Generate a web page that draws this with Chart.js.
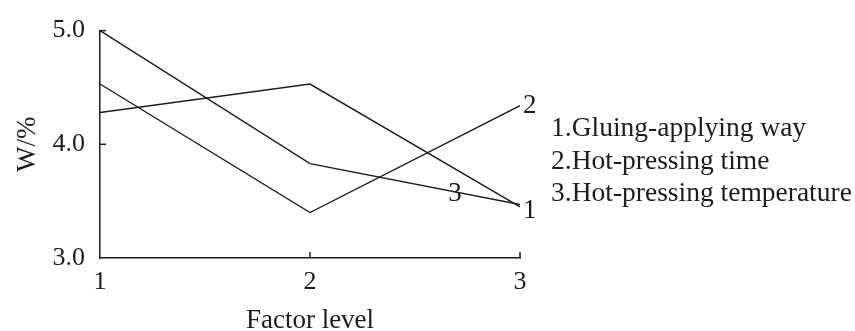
<!DOCTYPE html>
<html>
<head>
<meta charset="utf-8">
<script src="https://cdn.jsdelivr.net/npm/chart.js@4.4.1/dist/chart.umd.min.js"></script>
<style>
  html, body { margin: 0; padding: 0; background: #fff; }
  #box { width: 855px; height: 331px; }
</style>
</head>
<body>
<div id="box"><canvas id="myChart" width="855" height="331"></canvas></div>
<script>
// factor levels on the x axis
const levels = [1, 2, 3];
// W/% for each factor
const gluingWay = [4.28, 4.53, 3.45];
const pressTime = [4.53, 3.40, 4.34];
const pressTemp = [5.00, 3.83, 3.47];
const seriesNames = ['Gluing-applying way', 'Hot-pressing time', 'Hot-pressing temperature'];
const yTicks = [3.0, 4.0, 5.0];
// where the little number tags sit along each line (x in factor level)
const tagAt = [3, 3, 2.69];

const ink = '#1c1c1c';
const serif = "'Liberation Serif', 'Times New Roman', serif";

function pts(vals) {
  return levels.map((l, i) => ({ x: l, y: vals[i] }));
}

// inward ticks + line numbers + text legend
const extras = {
  id: 'extras',
  afterDraw(chart) {
    const ctx = chart.ctx;
    const xs = chart.scales.x, ys = chart.scales.y;
    const area = chart.chartArea;
    ctx.save();
    ctx.strokeStyle = ink;
    ctx.lineWidth = 1.5;
    levels.slice(1).forEach(l => {
      const px = xs.getPixelForValue(l);
      ctx.beginPath(); ctx.moveTo(px, area.bottom); ctx.lineTo(px, area.bottom - 6); ctx.stroke();
    });
    yTicks.slice(1).forEach(v => {
      const py = ys.getPixelForValue(v);
      ctx.beginPath(); ctx.moveTo(area.left, py); ctx.lineTo(area.left + 6, py); ctx.stroke();
    });

    ctx.fillStyle = ink;
    ctx.font = '27px ' + serif;
    ctx.textBaseline = 'middle';
    chart.data.datasets.forEach((ds, i) => {
      const xv = tagAt[i];
      // value on the line at xv
      const d = ds.data;
      let yv = d[d.length - 1].y;
      for (let k = 0; k < d.length - 1; k++) {
        if (xv >= d[k].x && xv <= d[k + 1].x) {
          const t = (xv - d[k].x) / (d[k + 1].x - d[k].x);
          yv = d[k].y + t * (d[k + 1].y - d[k].y);
          break;
        }
      }
      const px = xs.getPixelForValue(xv);
      const py = ys.getPixelForValue(yv);
      if (xv >= 3) {
        ctx.textAlign = 'left';
        ctx.fillText(String(i + 1), px + 3, py + (i === 0 ? 4 : 0));
      } else {
        ctx.textAlign = 'center';
        ctx.fillText(String(i + 1), px, py + 2);
      }
    });

    ctx.textAlign = 'left';
    ctx.textBaseline = 'alphabetic';
    ctx.font = '27.5px ' + serif;
    seriesNames.forEach((name, i) => {
      ctx.fillText((i + 1) + '.' + name, 551, 136 + i * 32.5);
    });
    ctx.restore();
  }
};

const config = {
  type: 'line',
  data: {
    datasets: [
      { label: seriesNames[0], data: pts(gluingWay) },
      { label: seriesNames[1], data: pts(pressTime) },
      { label: seriesNames[2], data: pts(pressTemp) }
    ].map(ds => Object.assign(ds, {
      borderColor: ink, borderWidth: 1.4, pointRadius: 0, tension: 0, fill: false
    }))
  },
  options: {
    responsive: false,
    animation: false,
    layout: { padding: { left: 0, top: 25, right: 335, bottom: 0 } },
    plugins: { legend: { display: false }, tooltip: { enabled: false } },
    scales: {
      x: {
        type: 'linear', min: 1, max: 3,
        afterFit: s => { s.height = 73; },
        grid: { display: false, drawTicks: false },
        border: { display: true, color: ink, width: 1.5 },
        ticks: { stepSize: 1, padding: 9, color: ink, font: { family: serif, size: 26 } },
        title: { display: true, text: 'Factor level', color: ink, padding: { top: 0, bottom: -3 },
                 font: { family: serif, size: 27, lineHeight: 1 } }
      },
      y: {
        min: 3, max: 5,
        afterFit: s => { s.width = 100; },
        grid: { display: false, drawTicks: false },
        border: { display: true, color: ink, width: 1.5 },
        ticks: { stepSize: 1, padding: 15, color: ink, font: { family: serif, size: 26 },
                 callback: v => v.toFixed(1) },
        title: { display: true, text: 'W/%', color: ink, padding: { top: 12, bottom: 0 },
                 font: { family: serif, size: 27, lineHeight: 1.2 } }
      }
    }
  },
  plugins: [extras]
};

const chartInstance = new Chart(document.getElementById('myChart'), config);
</script>
</body>
</html>
